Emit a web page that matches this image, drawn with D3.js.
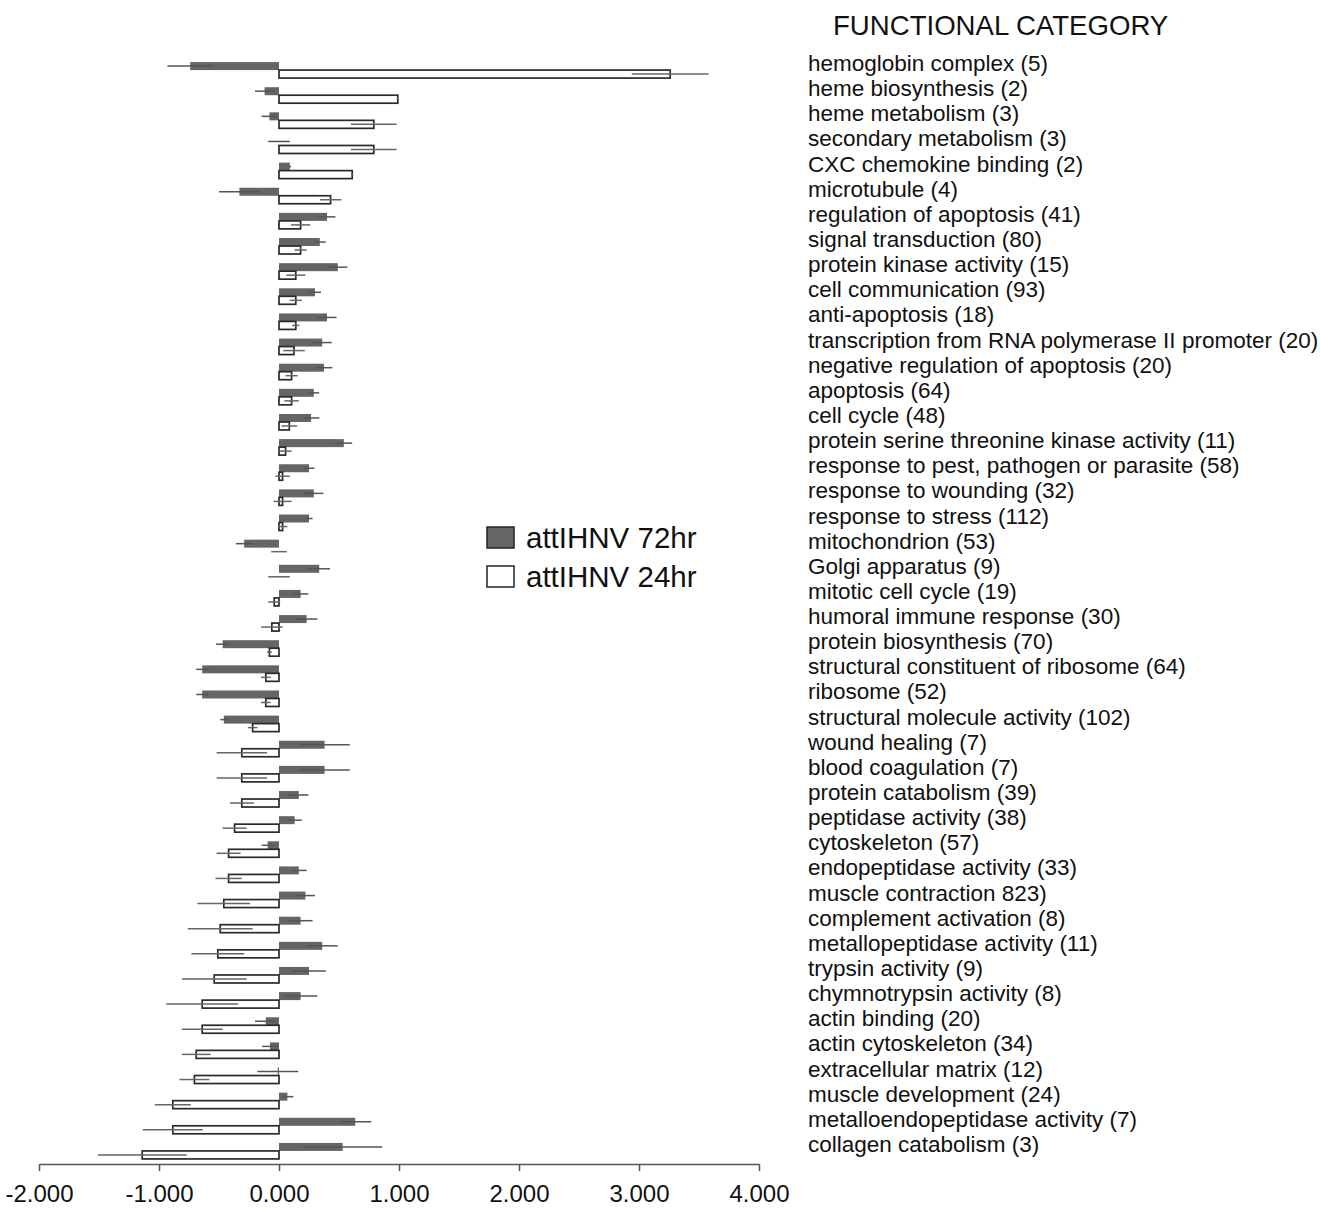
<!DOCTYPE html>
<html>
<head>
<meta charset="utf-8">
<script src="https://cdn.jsdelivr.net/npm/d3@7"></script>
<style>
  html, body { margin: 0; padding: 0; background: #fff; }
  svg { display: block; font-family: Arial, "Liberation Sans", sans-serif; }
</style>
</head>
<body>
<svg id="chart" width="1320" height="1209"></svg>
<script>
const categories = [
  "hemoglobin complex (5)",
  "heme biosynthesis (2)",
  "heme metabolism (3)",
  "secondary metabolism (3)",
  "CXC chemokine binding (2)",
  "microtubule (4)",
  "regulation of apoptosis (41)",
  "signal transduction (80)",
  "protein kinase activity (15)",
  "cell communication (93)",
  "anti-apoptosis (18)",
  "transcription from RNA polymerase II promoter (20)",
  "negative regulation of apoptosis (20)",
  "apoptosis (64)",
  "cell cycle (48)",
  "protein serine threonine kinase activity (11)",
  "response to pest, pathogen or parasite (58)",
  "response to wounding (32)",
  "response to stress (112)",
  "mitochondrion (53)",
  "Golgi apparatus (9)",
  "mitotic cell cycle (19)",
  "humoral immune response (30)",
  "protein biosynthesis (70)",
  "structural constituent of ribosome (64)",
  "ribosome (52)",
  "structural molecule activity (102)",
  "wound healing (7)",
  "blood coagulation (7)",
  "protein catabolism (39)",
  "peptidase activity (38)",
  "cytoskeleton (57)",
  "endopeptidase activity (33)",
  "muscle contraction 823)",
  "complement activation (8)",
  "metallopeptidase activity (11)",
  "trypsin activity (9)",
  "chymnotrypsin activity (8)",
  "actin binding (20)",
  "actin cytoskeleton (34)",
  "extracellular matrix (12)",
  "muscle development (24)",
  "metalloendopeptidase activity (7)",
  "collagen catabolism (3)"
];

const mean72 = [-0.74,-0.12,-0.08,0.0,0.09,-0.33,0.40,0.34,0.49,0.30,0.40,0.36,0.375,0.29,0.267,0.54,0.25,0.29,0.25,-0.29,0.335,0.18,0.23,-0.47,-0.64,-0.64,-0.46,0.38,0.38,0.165,0.13,-0.095,0.165,0.22,0.18,0.36,0.25,0.18,-0.11,-0.075,-0.01,0.07,0.635,0.53];
const err72  = [0.19,0.08,0.065,0.09,0.01,0.17,0.07,0.05,0.08,0.05,0.08,0.08,0.07,0.045,0.07,0.07,0.045,0.08,0.03,0.07,0.09,0.065,0.09,0.055,0.05,0.05,0.03,0.21,0.21,0.08,0.06,0.05,0.065,0.08,0.10,0.13,0.14,0.14,0.09,0.065,0.17,0.05,0.135,0.33];
const mean24 = [3.26,0.99,0.79,0.79,0.61,0.43,0.18,0.18,0.14,0.14,0.14,0.125,0.105,0.105,0.086,0.055,0.03,0.03,0.03,0.0,0.0,-0.04,-0.06,-0.08,-0.11,-0.11,-0.22,-0.31,-0.31,-0.31,-0.37,-0.42,-0.42,-0.46,-0.49,-0.51,-0.54,-0.64,-0.64,-0.69,-0.705,-0.885,-0.885,-1.14];
const err24  = [0.32,0.01,0.19,0.19,0.01,0.09,0.08,0.05,0.08,0.05,0.03,0.09,0.05,0.06,0.065,0.05,0.06,0.075,0.04,0.065,0.09,0.05,0.09,0.02,0.04,0.04,0.04,0.21,0.21,0.10,0.10,0.10,0.11,0.22,0.27,0.22,0.27,0.30,0.17,0.12,0.125,0.15,0.25,0.37];

const seriesNames = ["attIHNV 72hr", "attIHNV 24hr"];
const tickValues = [-2, -1, 0, 1, 2, 3, 4];
const titleText = "FUNCTIONAL CATEGORY";

const svg = d3.select("#chart");

const x = d3.scaleLinear().domain([-2, 4]).range([39, 759]);
const y = d3.scaleBand().domain(categories).range([57.5, 1163.5]);
const step = y.step();
const barH = 8;

const rows = categories.map((c, i) => ({
  cat: c, m72: mean72[i], e72: err72[i], m24: mean24[i], e24: err24[i]
}));

const g = svg.append("g");

// grey bars (72hr)
g.selectAll("rect.b72").data(rows).join("rect")
  .attr("class", "b72")
  .attr("x", d => x(Math.min(0, d.m72)))
  .attr("width", d => Math.abs(x(d.m72) - x(0)))
  .attr("y", d => y(d.cat) + step / 2 - barH)
  .attr("height", barH)
  .attr("fill", "#656565");

// white bars (24hr)
g.selectAll("rect.b24").data(rows).join("rect")
  .attr("class", "b24")
  .attr("x", d => x(Math.min(0, d.m24)))
  .attr("width", d => Math.abs(x(d.m24) - x(0)))
  .attr("y", d => y(d.cat) + step / 2)
  .attr("height", barH)
  .attr("fill", "#fff")
  .attr("stroke", "#2a2a2a")
  .attr("stroke-width", 1.7);

// error bars
g.selectAll("line.e72").data(rows).join("line")
  .attr("class", "e72")
  .attr("x1", d => x(d.m72 - d.e72))
  .attr("x2", d => x(d.m72 + d.e72))
  .attr("y1", d => y(d.cat) + step / 2 - barH / 2)
  .attr("y2", d => y(d.cat) + step / 2 - barH / 2)
  .attr("stroke", "#555")
  .attr("stroke-width", 1.5);

g.selectAll("line.e24").data(rows).join("line")
  .attr("class", "e24")
  .attr("x1", d => x(d.m24 - d.e24))
  .attr("x2", d => x(d.m24 + d.e24))
  .attr("y1", d => y(d.cat) + step / 2 + barH / 2)
  .attr("y2", d => y(d.cat) + step / 2 + barH / 2)
  .attr("stroke", "#666")
  .attr("stroke-width", 1.5);

// axis
const axis = d3.axisBottom(x)
  .tickValues(tickValues)
  .tickFormat(d => d.toFixed(3))
  .tickSize(7)
  .tickSizeOuter(0)
  .tickPadding(14);

const ax = svg.append("g")
  .attr("transform", "translate(0,1164)")
  .call(axis);
ax.select(".domain").attr("stroke", "#555").attr("stroke-width", 1.5);
ax.selectAll(".tick line").attr("stroke", "#555").attr("stroke-width", 1.5);
ax.selectAll(".tick text")
  .attr("font-size", 24)
  .attr("font-family", "Arial, 'Liberation Sans', sans-serif")
  .attr("fill", "#111");

// category labels
svg.append("g").selectAll("text").data(categories).join("text")
  .attr("x", 808)
  .attr("y", d => y(d) + step / 2 + 1)
  .attr("font-size", 22.5)
  .attr("fill", "#111")
  .text(d => d);

// title
svg.append("text")
  .attr("x", 833)
  .attr("y", 35)
  .attr("font-size", 27.6)
  .attr("fill", "#111")
  .text(titleText);

// legend
const legend = svg.append("g");
const legendItems = [
  { name: seriesNames[0], fill: "#656565", y: 527 },
  { name: seriesNames[1], fill: "#fff", y: 566 }
];
legend.selectAll("rect").data(legendItems).join("rect")
  .attr("x", 487)
  .attr("y", d => d.y)
  .attr("width", 27)
  .attr("height", 21)
  .attr("fill", d => d.fill)
  .attr("stroke", "#222")
  .attr("stroke-width", 1.5);
legend.selectAll("text").data(legendItems).join("text")
  .attr("x", 526)
  .attr("y", d => d.y + 21)
  .attr("font-size", 29.5)
  .attr("fill", "#111")
  .text(d => d.name);
</script>
</body>
</html>
